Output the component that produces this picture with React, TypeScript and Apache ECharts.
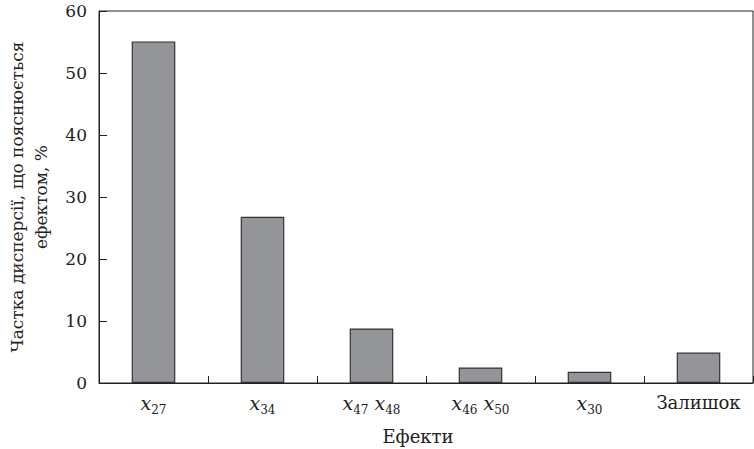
import React, { useEffect, useRef } from "react";
import * as echarts from "echarts";

const categories = ["{x|x}{s|27}", "{x|x}{s|34}", "{x|x}{s|47}{x| x}{s|48}", "{x|x}{s|46}{x| x}{s|50}", "{x|x}{s|30}", "{n|Залишок}"];
const values = [55.1, 26.8, 8.8, 2.5, 1.8, 4.9];
const yTicks = { min: 0, max: 60, interval: 10 };
const yName = "Частка дисперсії, що пояснюється\nефектом, %";
const xName = "Ефекти";

const FONT = "'DejaVu Serif', serif";

export default function App() {
  const ref = useRef<HTMLDivElement>(null);
  useEffect(() => {
    const chart = echarts.init(ref.current!, null, { renderer: "svg" });
    chart.setOption({
      animation: false,
      textStyle: { fontFamily: FONT },
      grid: {
        left: 99, right: 1, top: 11, bottom: 66,
        containLabel: false, outerBoundsMode: "none",
        show: true, borderColor: "#222", borderWidth: 1, backgroundColor: "transparent",
      },
      xAxis: {
        type: "category",
        data: categories,
        name: xName,
        nameLocation: "middle",
        nameGap: 44,
        nameTextStyle: { fontFamily: FONT, fontSize: 18, color: "#222", padding: [0, 16, 0, 0] },
        axisLine: { lineStyle: { color: "#222", width: 1 } },
        axisTick: { show: true, inside: true, length: 7, lineStyle: { color: "#222", width: 1 } },
        axisLabel: {
          interval: 0,
          margin: 10,
          color: "#222",
          rich: {
            x: { fontFamily: FONT, fontStyle: "italic", fontSize: 19, lineHeight: 20, verticalAlign: "top", color: "#222" },
            s: { fontFamily: FONT, fontSize: 12, lineHeight: 34, verticalAlign: "middle", color: "#222" },
            n: { fontFamily: FONT, fontSize: 18, lineHeight: 20, verticalAlign: "top", color: "#222" },
          },
        },
      },
      yAxis: {
        type: "value",
        min: yTicks.min,
        max: yTicks.max,
        interval: yTicks.interval,
        name: yName,
        nameLocation: "middle",
        nameGap: 46,
        nameRotate: 90,
        nameTextStyle: { fontFamily: FONT, fontSize: 17, color: "#222", lineHeight: 24, align: "center" },
        axisLine: { show: true, lineStyle: { color: "#222", width: 1 } },
        axisTick: { show: true, inside: true, length: 8, lineStyle: { color: "#222" } },
        axisLabel: { fontFamily: FONT, fontSize: 17, color: "#222", margin: 12 },
        splitLine: { show: false },
      },
      series: [
        {
          type: "bar",
          data: values,
          barWidth: "40%",
          itemStyle: { color: "#939598", borderColor: "#333", borderWidth: 1.2 },
        },
      ],
    });
    return () => chart.dispose();
  }, []);
  return <div ref={ref} style={{ width: 754, height: 449, position: "absolute", left: 0, top: 0 }} />;
}
